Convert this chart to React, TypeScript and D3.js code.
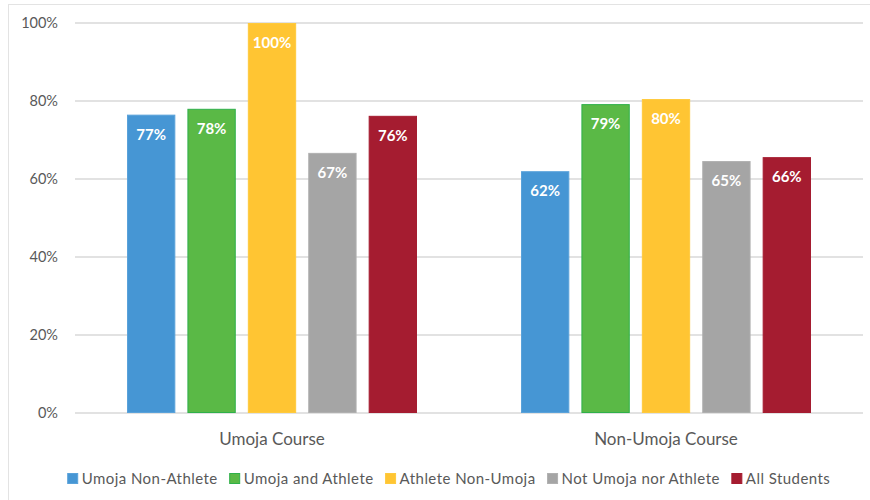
import { useEffect, useRef } from 'react';
import * as d3 from 'd3';

const groups = ['Umoja Course', 'Non-Umoja Course'];
const seriesNames = ['Umoja Non-Athlete', 'Umoja and Athlete', 'Athlete Non-Umoja', 'Not Umoja nor Athlete', 'All Students'];
const seriesColors = ['#4696d4', '#5ab946', '#ffc533', '#a5a5a5', '#a51c30'];
const seriesStroke = ['#5aa2da', '#2fb04a', '#ffca3d', '#b0b0b0', '#a51c30'];
// values per series: [Umoja Course, Non-Umoja Course]
const umojaNonAthlete = [0.765, 0.62];
const umojaAthlete = [0.78, 0.792];
const athleteNonUmoja = [1.0, 0.805];
const notUmojaNorAthlete = [0.667, 0.646];
const allStudents = [0.762, 0.656];
const labels = [['77%', '62%'], ['78%', '79%'], ['100%', '80%'], ['67%', '65%'], ['76%', '66%']];
const yTicks = [0, 0.2, 0.4, 0.6, 0.8, 1.0];

const W = 870, H = 500;
const FONT = 'Lato, "Open Sans", sans-serif';

export default function App() {
  const ref = useRef<SVGSVGElement | null>(null);
  useEffect(() => {
    document.body.style.margin = '0';
    const svg = d3.select(ref.current!);
    svg.selectAll('*').remove();
    const values = [umojaNonAthlete, umojaAthlete, athleteNonUmoja, notUmojaNorAthlete, allStudents];
    const margin = { left: 75, right: 7, top: 23, bottom: 87 };

    svg.append('rect').attr('x', 8.5).attr('y', 4.5).attr('width', W).attr('height', H)
      .attr('fill', 'white').attr('stroke', '#e3e3e3');

    const x0 = d3.scaleBand<string>().domain(groups).range([margin.left, W - margin.right]);
    const x1 = d3.scaleBand<string>().domain(seriesNames).range([52, x0.bandwidth() - 52]).paddingInner(0.2);
    const y = d3.scaleLinear().domain([0, 1]).range([H - margin.bottom, margin.top]);

    svg.append('g').selectAll('line').data(yTicks).enter().append('line')
      .attr('x1', margin.left).attr('x2', W - margin.right)
      .attr('y1', (d) => y(d)).attr('y2', (d) => y(d))
      .attr('stroke', '#d9d9d9').attr('stroke-width', 1.3);

    svg.append('g').call(d3.axisLeft(y).tickValues(yTicks).tickFormat(d3.format('.0%')).tickSize(0).tickPadding(17))
      .attr('transform', `translate(${margin.left},0)`)
      .call((s) => s.select('.domain').remove())
      .selectAll('text').attr('font-size', 14.5).attr('fill', '#595959').attr('font-family', FONT);

    groups.forEach((g, gi) => {
      const gg = svg.append('g').attr('transform', `translate(${x0(g)},0)`);
      seriesNames.forEach((s, si) => {
        const v = values[si][gi];
        gg.append('rect').attr('x', x1(s)! + 0.5).attr('y', y(v) + 0.5)
          .attr('width', x1.bandwidth() - 1).attr('height', y(0) - y(v) - 1)
          .attr('fill', seriesColors[si]).attr('stroke', seriesStroke[si]).attr('stroke-width', 1);
        gg.append('text').attr('x', x1(s)! + x1.bandwidth() / 2).attr('y', y(v) + 25)
          .attr('text-anchor', 'middle').attr('fill', 'white').attr('font-weight', 'bold')
          .attr('font-size', 15).attr('font-family', FONT).text(labels[si][gi]);
      });
      svg.append('text').attr('x', x0(g)! + x0.bandwidth() / 2).attr('y', 445)
        .attr('text-anchor', 'middle').attr('fill', '#595959').attr('font-size', 17)
        .attr('font-family', FONT).text(g);
    });

    const leg = svg.append('g');
    let cx = 0;
    seriesNames.forEach((s, si) => {
      const item = leg.append('g').attr('transform', `translate(${cx},0)`);
      item.append('rect').attr('x', 0).attr('y', -10.5).attr('width', 10).attr('height', 10)
        .attr('fill', seriesColors[si]).attr('stroke', seriesStroke[si]);
      const t = item.append('text').attr('x', 14).attr('y', 0).attr('fill', '#595959')
        .attr('font-size', 15).attr('letter-spacing', 0.45).attr('font-family', FONT).text(s);
      cx += 14 + (t.node() as SVGTextElement).getComputedTextLength() + 12;
    });
    const total = cx - 12;
    leg.attr('transform', `translate(${(65 + 833 - total) / 2},484)`);
  }, []);
  return <svg ref={ref} width={W} height={H} style={{ display: 'block' }} />;
}
